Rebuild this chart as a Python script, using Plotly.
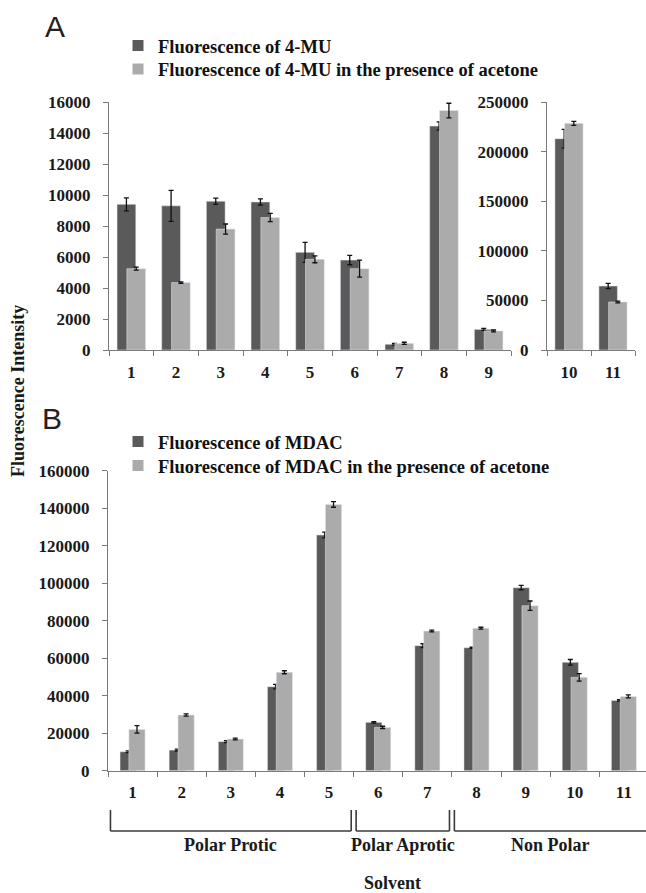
import plotly.graph_objects as go

# ---------------- data ----------------
cats_a_left = ["1", "2", "3", "4", "5", "6", "7", "8", "9"]
mu_left = [9400, 9300, 9600, 9550, 6300, 5800, 370, 14450, 1330]
mu_left_err = [420, 1000, 200, 200, 650, 300, 60, 270, 60]
mu_ac_left = [5250, 4350, 7800, 8550, 5850, 5250, 430, 15450, 1230]
mu_ac_left_err = [100, 50, 330, 270, 220, 550, 70, 470, 60]

cats_a_right = ["10", "11"]
mu_right = [213000, 64500]
mu_right_err = [9500, 2700]
mu_ac_right = [228500, 48400]
mu_ac_right_err = [2000, 800]

cats_b = ["1", "2", "3", "4", "5", "6", "7", "8", "9", "10", "11"]
mdac = [10100, 11000, 15500, 44800, 125700, 25800, 66700, 65600, 97600, 57800, 37500]
mdac_err = [500, 500, 500, 1200, 1500, 400, 1000, 300, 1200, 1500, 400]
mdac_ac = [22000, 29700, 16900, 52500, 142000, 23100, 74500, 76000, 88000, 49800, 39600]
mdac_ac_err = [2000, 600, 500, 800, 1500, 600, 500, 500, 2500, 2000, 800]

groups = ["Polar Protic", "Polar Aprotic", "Non Polar"]
group_spans = [(0, 4), (5, 6), (7, 10)]  # category index ranges

name_a1 = "Fluorescence of 4-MU"
name_a2 = "Fluorescence of 4-MU in the presence of acetone"
name_b1 = "Fluorescence of MDAC"
name_b2 = "Fluorescence of MDAC in the presence of acetone"

# ---------------- style ----------------
W, H = 646, 893
DARK = "#5a5a5a"
LIGHT = "#ababab"
AXC = "#7a7a7a"
SERIF = "Liberation Serif, Times New Roman, serif"
tickfont = dict(family=SERIF, size=17, color="#1a1a1a", weight="bold")

def px_x(p):
    return p / W

def px_y(p):
    return 1 - p / H

err_style = dict(type="data", color="#111111", thickness=1.3, width=2.5, visible=True)

fig = go.Figure()

# Panel A left
wa, off_d_a, off_l_a = 0.42, -0.32, -0.10
fig.add_trace(go.Bar(x=cats_a_left, y=mu_left, name=name_a1, marker_color=DARK,
                     width=wa, offset=off_d_a, error_y=dict(array=mu_left_err, **err_style),
                     xaxis="x", yaxis="y", showlegend=False))
fig.add_trace(go.Bar(x=cats_a_left, y=mu_ac_left, name=name_a2, marker_color=LIGHT,
                     width=wa, offset=off_l_a, error_y=dict(array=mu_ac_left_err, **err_style),
                     xaxis="x", yaxis="y", showlegend=False))
# Panel A right
fig.add_trace(go.Bar(x=cats_a_right, y=mu_right, name=name_a1, marker_color=DARK,
                     width=wa, offset=off_d_a, error_y=dict(array=mu_right_err, **err_style),
                     xaxis="x2", yaxis="y2", showlegend=False))
fig.add_trace(go.Bar(x=cats_a_right, y=mu_ac_right, name=name_a2, marker_color=LIGHT,
                     width=wa, offset=off_l_a, error_y=dict(array=mu_ac_right_err, **err_style),
                     xaxis="x2", yaxis="y2", showlegend=False))
# Panel B
wb, off_d_b, off_l_b = 0.33, -0.255, -0.075
fig.add_trace(go.Bar(x=cats_b, y=mdac, name=name_b1, marker_color=DARK,
                     width=wb, offset=off_d_b, error_y=dict(array=mdac_err, **err_style),
                     xaxis="x3", yaxis="y3", showlegend=False))
fig.add_trace(go.Bar(x=cats_b, y=mdac_ac, name=name_b2, marker_color=LIGHT,
                     width=wb, offset=off_l_b, error_y=dict(array=mdac_ac_err, **err_style),
                     xaxis="x3", yaxis="y3", showlegend=False))

# legend entries (square swatches, as in the reference), one legend per line
legend_items = [(name_a1, DARK, "legend", "x", "y", 27),
                (name_a2, LIGHT, "legend2", "x", "y", 50.5),
                (name_b1, DARK, "legend3", "x3", "y3", 423),
                (name_b2, LIGHT, "legend4", "x3", "y3", 447)]
for nm, col, lg, xa, ya, _ in legend_items:
    fig.add_trace(go.Scatter(x=[None], y=[None], mode="markers", name=nm,
                             marker=dict(symbol="square", size=11, color=col),
                             xaxis=xa, yaxis=ya, legend=lg, hoverinfo="skip"))

xcommon = dict(type="category", tickson="boundaries", ticks="outside", ticklen=5,
               tickcolor=AXC, tickwidth=1, showline=True, linecolor=AXC, linewidth=1.2,
               showgrid=False, zeroline=False, tickfont=tickfont, ticklabelstandoff=6,
               fixedrange=True, automargin=False)
ycommon = dict(ticks="outside", ticklen=5, tickcolor=AXC, tickwidth=1, showline=True,
               linecolor=AXC, linewidth=1.2, showgrid=False, zeroline=False,
               tickfont=tickfont, tickformat="d", ticklabelstandoff=9, fixedrange=True,
               automargin=False)

legend_font = dict(family=SERIF, size=18.5, color="#111111", weight="bold")
ya_dom = [px_y(350), px_y(102)]
layout_legends = {}
for _, _, lg, _, _, top in legend_items:
    layout_legends[lg] = dict(x=px_x(118), y=px_y(top), xanchor="left", yanchor="top",
                              bgcolor="rgba(0,0,0,0)", borderwidth=0, font=legend_font)

fig.update_layout(
    width=W, height=H, autosize=False,
    margin=dict(l=0, r=0, t=0, b=0, pad=0, autoexpand=False),
    paper_bgcolor="white", plot_bgcolor="white",
    barmode="overlay",
    xaxis=dict(domain=[px_x(109), px_x(511)], anchor="y", range=[-0.5, 8.5], **xcommon),
    yaxis=dict(domain=ya_dom, anchor="x", range=[0, 16000], dtick=2000, **ycommon),
    xaxis2=dict(domain=[px_x(547), px_x(635)], anchor="y2", range=[-0.5, 1.5], **xcommon),
    yaxis2=dict(domain=ya_dom, anchor="x2", range=[0, 250000], dtick=50000, **ycommon),
    xaxis3=dict(domain=[px_x(108), 1.0], anchor="y3", range=[-0.5, 10.45], **xcommon),
    yaxis3=dict(domain=[px_y(770.7), px_y(470.7)], anchor="x3", range=[0, 160000],
                dtick=20000, **ycommon),
    **layout_legends,
)

ann_font = dict(family=SERIF, size=18, color="#1a1a1a", weight="bold")
label_font = dict(family="Liberation Sans, Arial, sans-serif", size=30, color="#222222")
center = dict(xanchor="center", yanchor="middle", showarrow=False)
annotations = [
    dict(text="A", x=px_x(55), y=px_y(26), xref="paper", yref="paper", font=label_font, **center),
    dict(text="B", x=px_x(52), y=px_y(418), xref="paper", yref="paper", font=label_font, **center),
    dict(text="Fluorescence Intensity", x=px_x(18), y=px_y(391), xref="paper", yref="paper",
         textangle=-90, font=ann_font, **center),
    dict(text="Solvent", x=px_x(392), y=px_y(883), xref="paper", yref="paper",
         font=ann_font, **center),
]
shapes = []
y_top, y_bot = px_y(810), px_y(831)
line_style = dict(color="#3a3a3a", width=1.6)
for gname, (i0, i1) in zip(groups, group_spans):
    x0 = i0 - 0.45
    x1 = min(i1 + 0.45, 10.45)
    shapes.append(dict(type="line", xref="x3", yref="paper", x0=x0, x1=x0, y0=y_top, y1=y_bot, line=line_style))
    shapes.append(dict(type="line", xref="x3", yref="paper", x0=x0, x1=x1, y0=y_bot, y1=y_bot, line=line_style))
    if i1 < 10:
        shapes.append(dict(type="line", xref="x3", yref="paper", x0=x1, x1=x1, y0=y_bot, y1=y_top, line=line_style))
    annotations.append(dict(text=gname, x=(i0 + i1) / 2, y=px_y(845), xref="x3", yref="paper",
                            font=ann_font, **center))

fig.update_layout(annotations=annotations, shapes=shapes)
fig.write_html("out.html", config={"displayModeBar": False},
               post_script="document.body.style.margin='0px';")
